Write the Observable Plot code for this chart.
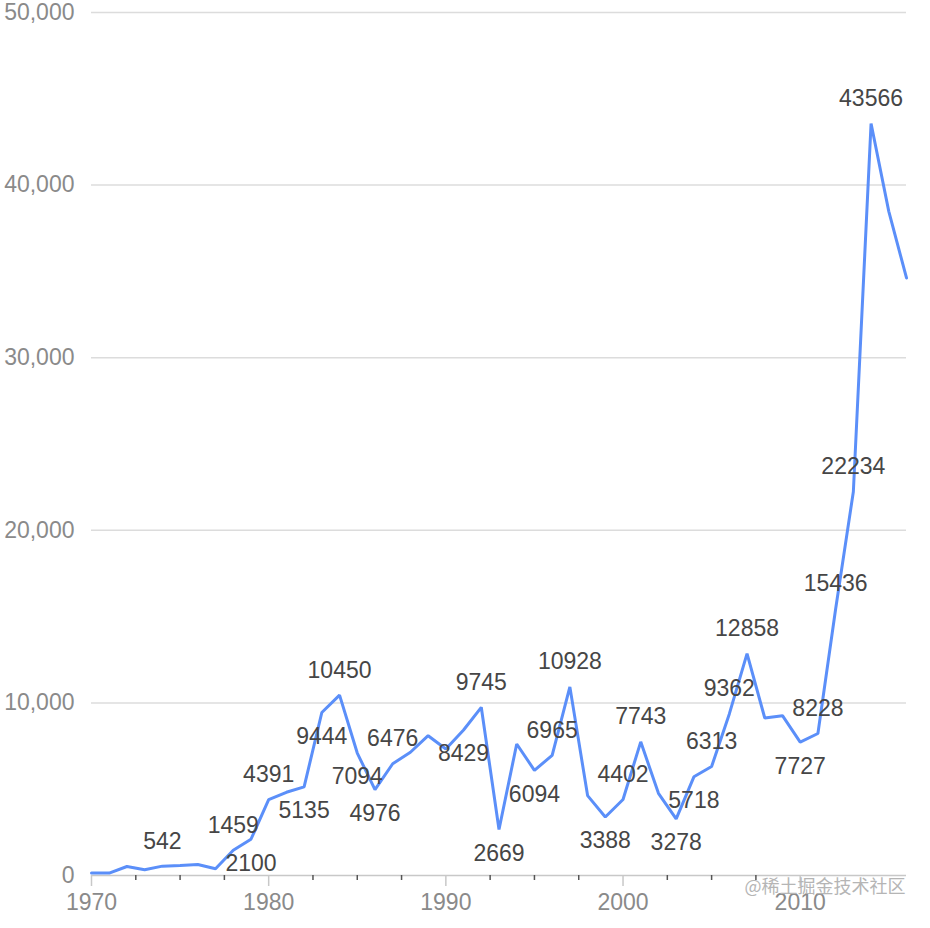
<!DOCTYPE html>
<html>
<head>
<meta charset="utf-8">
<script src="https://cdn.jsdelivr.net/npm/d3@7"></script>
<script src="https://cdn.jsdelivr.net/npm/@observablehq/plot@0.6"></script>
<style>
  html, body { margin: 0; padding: 0; background: #fff; }
  #chart svg { display: block; }
</style>
</head>
<body>
<div id="chart"></div>
<script>
const years = [1970,1971,1972,1973,1974,1975,1976,1977,1978,1979,
  1980,1981,1982,1983,1984,1985,1986,1987,1988,1989,
  1990,1991,1992,1993,1994,1995,1996,1997,1998,1999,
  2000,2001,2002,2003,2004,2005,2006,2007,2008,2009,
  2010,2011,2012,2013,2014,2015,2016];
const values = [140,140,520,330,542,580,640,390,1459,2100,
  4391,4820,5135,9444,10450,7094,4976,6476,7140,8100,
  7330,8429,9745,2669,7620,6094,6965,10928,4630,3388,
  4402,7743,4760,3278,5718,6313,9362,12858,9126,9260,
  7727,8228,15436,22234,43566,38480,34620];
// years whose value is printed, and on which side of the line
const labeledYears = [1974,1978,1979,1980,1982,1983,1984,1985,1986,1987,
  1991,1992,1993,1995,1996,1997,1999,2000,2001,2003,2004,2005,2006,2007,
  2010,2011,2012,2013,2014];
const labelSide = ["top","top","bottom","top","bottom","bottom","top","bottom","bottom","top",
  "bottom","top","bottom","bottom","top","top","bottom","top","top","bottom","bottom","top","top","top",
  "bottom","top","top","top","top"];
const xTickLabels = [1970,1980,1990,2000,2010];
const xMinorTicks = [1972.5,1975,1977.5,1982.5,1985,1987.5,1992.5,1995,1997.5,2002.5,2005,2007.5];
const yTicks = [0,10000,20000,30000,40000,50000];
const watermark = "@稀土掘金技术社区";

const data = years.map((year, i) => ({year, value: values[i]}));
const labels = labeledYears.map((year, i) => ({year, value: values[years.indexOf(year)], side: labelSide[i]}));
const labelsAbove = labels.filter(d => d.side === "top");
const labelsBelow = labels.filter(d => d.side === "bottom");

const chart = Plot.plot({
  width: 930,
  height: 928,
  marginLeft: 91,
  marginRight: 24,
  marginTop: 12,
  marginBottom: 53,
  style: {fontFamily: "'Liberation Sans', Arial, sans-serif", background: "#fff"},
  x: {domain: [1970, 2016]},
  y: {domain: [0, 50000]},
  marks: [
    Plot.gridY(yTicks.filter(d => d > 0), {stroke: "#dcdcdc", strokeOpacity: 1, strokeWidth: 1.5}),
    Plot.axisY({ticks: yTicks, tickSize: 0, tickPadding: 17, tickFormat: d3.format(","), fontSize: 23, fill: "#8a8a8a", label: null}),
    Plot.ruleY([0], {stroke: "#c8c8c8", strokeWidth: 1.5}),
    Plot.axisX({ticks: xMinorTicks, tickSize: 5, text: null, stroke: "#555", strokeWidth: 1.5, label: null}),
    Plot.axisX({ticks: xTickLabels, tickSize: 11, tickPadding: 7, stroke: "#c8c8c8", strokeWidth: 1.5, tickFormat: d => String(d), fontSize: 23, fill: "#8a8a8a", label: null}),
    Plot.line(data, {x: "year", y: "value", stroke: "#5B8FF9", strokeWidth: 3, strokeLinejoin: "miter"}),
    Plot.text(labelsAbove, {x: "year", y: "value", text: d => String(d.value), dy: -25, fontSize: 23, fill: "#464646"}),
    Plot.text(labelsBelow, {x: "year", y: "value", text: d => String(d.value), dy: 24, fontSize: 23, fill: "#464646"}),
    Plot.text([watermark], {frameAnchor: "bottom-right", text: d => d, dy: 17, dx: -1, textAnchor: "end", fontSize: 18, fill: "#b5b5b5", fontFamily: "'Noto Sans CJK SC', sans-serif"})
  ]
});
document.getElementById("chart").appendChild(chart);
</script>
</body>
</html>
